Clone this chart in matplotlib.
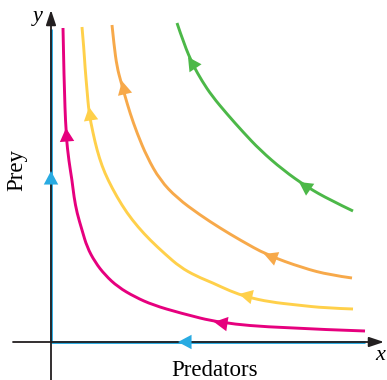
import matplotlib
matplotlib.use("Agg")
import matplotlib.pyplot as plt
from matplotlib.path import Path
from matplotlib.patches import PathPatch

# trajectories (x = predators, y = prey, arbitrary units)
magenta_x = [12, 13, 15, 18, 21, 23, 26, 31, 36, 44, 54, 67, 84, 102, 129, 169, 229, 314]
magenta_y = [314, 262, 207, 180, 162, 145, 129, 112, 95, 80, 67, 55, 45, 37, 29, 19, 14, 11]

yellow_x = [31, 33, 34, 36, 38, 42, 46, 51, 57, 66, 76, 87, 99, 114, 129, 145, 162, 179, 196, 219, 246, 274, 302]
yellow_y = [315, 292, 275, 252, 229, 209, 192, 176, 162, 145, 129, 115, 102, 88, 75, 66, 59, 51, 45, 40, 37, 34, 33]

orange_x = [61, 63, 66, 70, 74, 79, 86, 96, 109, 126, 149, 169, 189, 216, 252, 279, 301]
orange_y = [317, 297, 275, 260, 246, 229, 209, 185, 162, 144, 127, 114, 102, 87, 74, 67, 64]

green_x = [126, 133, 142, 151, 161, 176, 192, 209, 232, 256, 279, 302]
green_y = [319, 298, 277, 261, 246, 228, 210, 192, 172, 155, 142, 131]

axis_len_x = 314
axis_len_y = 313

# arrow heads: (tip, base) pairs
blue_arrows = [((0, 171), (0, 159)), ((127, 0), (140, 0))]
magenta_arrows = [((15, 214), (16, 201)), ((163, 20), (176, 18))]
yellow_arrows = [((38, 235), (40, 222)), ((188, 48), (201, 45))]
orange_arrows = [((71, 261), (74, 248)), ((213, 88), (226, 83))]
green_arrows = [((137, 285), (145, 273)), ((248, 160), (261, 151))]

c_blue = "#29abe2"
c_magenta = "#e6007e"
c_yellow = "#ffd04a"
c_orange = "#f7a94a"
c_green = "#4cb848"
c_axis = "#231f20"


def smooth_path(xs, ys):
    # quadratic bezier through the midpoints, read points act as control points
    pts = list(zip(xs, ys))
    verts = [pts[0]]
    codes = [Path.MOVETO]
    for i in range(1, len(pts) - 1):
        mid = ((pts[i][0] + pts[i + 1][0]) / 2, (pts[i][1] + pts[i + 1][1]) / 2)
        if i == len(pts) - 2:
            mid = pts[-1]
        verts += [pts[i], mid]
        codes += [Path.CURVE3, Path.CURVE3]
    return Path(verts, codes)


fig = plt.figure(figsize=(3.87, 3.80), dpi=100)
ax = fig.add_axes([0, 0, 1, 1])
ax.set_xlim(-51, 336)
ax.set_ylim(-38, 342)
ax.axis("off")

lw = 2.1
ax.plot([0, 0], [0, axis_len_y], color=c_blue, lw=lw, solid_capstyle="butt")
ax.plot([0, axis_len_x], [0, 0], color=c_blue, lw=lw, solid_capstyle="butt")
for xs, ys, col in [(magenta_x, magenta_y, c_magenta), (yellow_x, yellow_y, c_yellow),
                    (orange_x, orange_y, c_orange), (green_x, green_y, c_green)]:
    ax.add_patch(PathPatch(smooth_path(xs, ys), fill=False, edgecolor=col,
                           lw=lw, capstyle="butt"))

# coordinate axes with arrows
ax.annotate("", xy=(333, 0), xytext=(-38, 0),
            arrowprops=dict(arrowstyle="-|>,head_length=0.9,head_width=0.3",
                            mutation_scale=10, color=c_axis, lw=1.3,
                            shrinkA=0, shrinkB=0))
ax.annotate("", xy=(0, 332), xytext=(0, -38),
            arrowprops=dict(arrowstyle="-|>,head_length=0.9,head_width=0.3",
                            mutation_scale=10, color=c_axis, lw=1.3,
                            shrinkA=0, shrinkB=0))

for arrows, col in [(blue_arrows, c_blue), (magenta_arrows, c_magenta),
                    (yellow_arrows, c_yellow), (orange_arrows, c_orange),
                    (green_arrows, c_green)]:
    for tip, base in arrows:
        ax.annotate("", xy=tip, xytext=base,
                    arrowprops=dict(arrowstyle="-|>,head_length=0.75,head_width=0.4",
                                    mutation_scale=13, color=col, lw=0,
                                    shrinkA=0, shrinkB=0))

serif = ["Liberation Serif", "DejaVu Serif"]
ax.text(-13, 325, "y", fontsize=16, style="italic", family=serif, ha="center", va="center")
ax.text(329, -13, "x", fontsize=16, style="italic", family=serif, ha="center", va="center")
ax.text(-34, 172, "Prey", fontsize=16.5, family=serif, rotation=90, ha="center", va="center")
ax.text(164, -28, "Predators", fontsize=16.5, family=serif, ha="center", va="center")

fig.savefig("out.png", dpi=100)
